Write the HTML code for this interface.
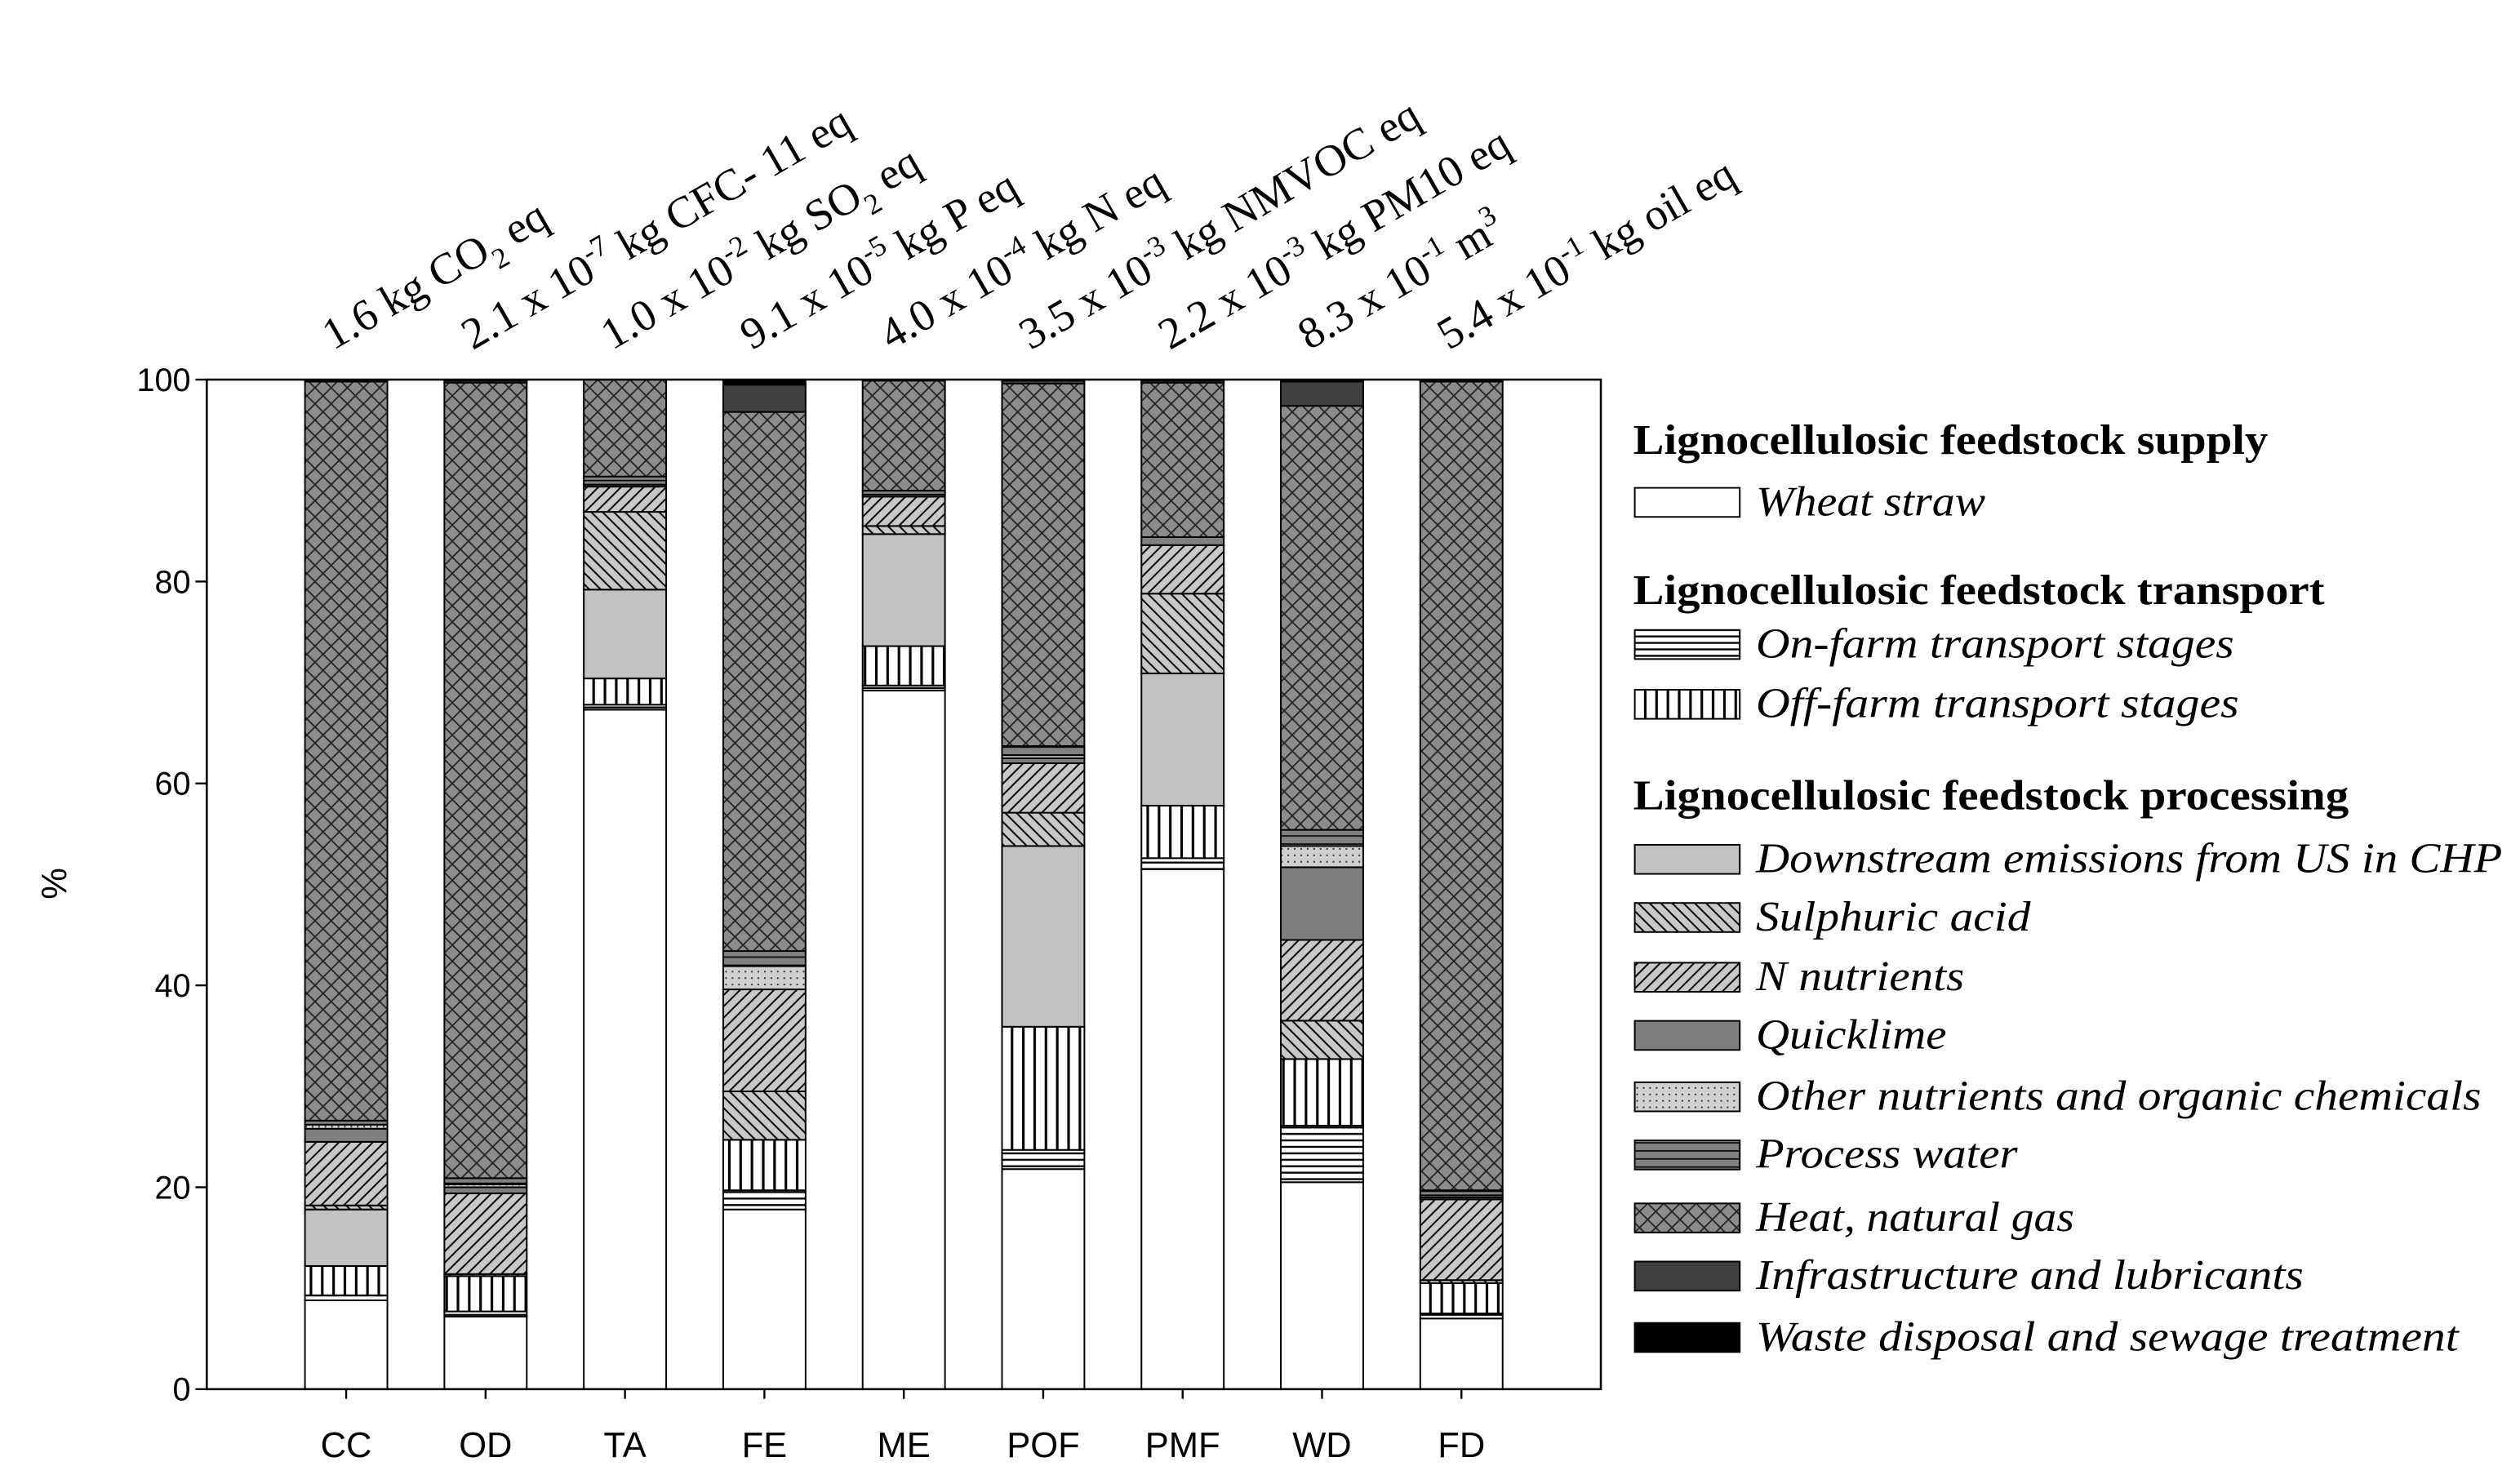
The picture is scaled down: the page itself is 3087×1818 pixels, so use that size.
<!DOCTYPE html>
<html><head><meta charset="utf-8">
<style>
html,body{margin:0;padding:0;background:#fff;}
svg{display:block;}
</style></head>
<body>
<svg id="chart" width="3087" height="1818" viewBox="0 0 1560 918.7" xmlns="http://www.w3.org/2000/svg">
<defs>
<pattern id="p1" patternUnits="userSpaceOnUse" width="8" height="4"><rect width="8" height="4" fill="#fff"/><line x1="0" y1="2" x2="8" y2="2" stroke="#000" stroke-width="1.2"/></pattern>
<pattern id="p2" patternUnits="userSpaceOnUse" width="7" height="8"><rect width="7" height="8" fill="#fff"/><line x1="3.5" y1="0" x2="3.5" y2="8" stroke="#000" stroke-width="1.6"/></pattern>
<pattern id="p3" patternUnits="userSpaceOnUse" width="4" height="4"><rect width="4" height="4" fill="#c2c2c2"/></pattern>
<pattern id="p4" patternUnits="userSpaceOnUse" width="7" height="7"><rect width="7" height="7" fill="#c8c8c8"/><path d="M-1,-1 L8,8 M-1,6 L1,8 M6,-1 L8,1" stroke="#000" stroke-width="1"/></pattern>
<pattern id="p5" patternUnits="userSpaceOnUse" width="7" height="7"><rect width="7" height="7" fill="#c8c8c8"/><path d="M-1,8 L8,-1 M-1,1 L1,-1 M6,8 L8,6" stroke="#000" stroke-width="1"/></pattern>
<pattern id="p6" patternUnits="userSpaceOnUse" width="4" height="4"><rect width="4" height="4" fill="#7e7e7e"/></pattern>
<pattern id="p7" patternUnits="userSpaceOnUse" width="4" height="4"><rect width="4" height="4" fill="#cfcfcf"/><rect x="1" y="1" width="1" height="1" fill="#333"/></pattern>
<pattern id="p8" patternUnits="userSpaceOnUse" width="8" height="5"><rect width="8" height="5" fill="#808080"/><line x1="0" y1="2.5" x2="8" y2="2.5" stroke="#000" stroke-width="0.8"/></pattern>
<pattern id="p9" patternUnits="userSpaceOnUse" width="10" height="10"><rect width="10" height="10" fill="#8c8c8c"/><path d="M0,5 L5,0 L10,5 L5,10 Z" fill="none" stroke="#222" stroke-width="0.9"/></pattern>
</defs>
<g id="plot"></g>
<g id="legend"></g>
</svg>
<script>
const categories = ["CC","OD","TA","FE","ME","POF","PMF","WD","FD"];
const topLabels = [
 [["1.6 kg CO","n"],["2","sub"],[" eq","n"]],
 [["2.1 x 10","n"],["-7","sup"],[" kg CFC- 11 eq","n"]],
 [["1.0 x 10","n"],["-2","sup"],[" kg SO","n"],["2","sub"],[" eq","n"]],
 [["9.1 x 10","n"],["-5","sup"],[" kg P eq","n"]],
 [["4.0 x 10","n"],["-4","sup"],[" kg N eq","n"]],
 [["3.5 x 10","n"],["-3","sup"],[" kg NMVOC eq","n"]],
 [["2.2 x 10","n"],["-3","sup"],[" kg PM10 eq","n"]],
 [["8.3 x 10","n"],["-1","sup"],["  m","n"],["3","sup"]],
 [["5.4 x 10","n"],["-1","sup"],[" kg oil eq","n"]]
];
const seriesNames = ["Wheat straw","On-farm transport stages","Off-farm transport stages","Downstream emissions from US in CHP","Sulphuric acid","N nutrients","Quicklime","Other nutrients and organic chemicals","Process water","Heat, natural gas","Infrastructure and lubricants","Waste disposal and sewage treatment"];
const wheatStraw   = [8.8, 7.2, 67.3, 17.8, 69.2, 21.8, 51.5, 20.5, 7.0];
const onFarm       = [0.5, 0.5, 0.5, 1.9, 0.5, 1.9, 1.1, 5.6, 0.5];
const offFarm      = [2.9, 3.5, 2.6, 5.0, 3.9, 12.2, 5.2, 6.6, 3.0];
const downstream   = [5.6, 0.0, 8.8, 0.0, 11.1, 17.9, 13.1, 0.0, 0.0];
const sulphuric    = [0.4, 0.2, 7.7, 4.8, 0.8, 3.3, 7.9, 3.8, 0.3];
const nNutrients   = [6.3, 8.0, 2.5, 10.1, 2.9, 4.9, 4.8, 8.0, 8.0];
const quicklime    = [1.3, 0.6, 0.2, 0.0, 0.2, 0.5, 0.0, 7.2, 0.2];
const otherNutr    = [0.4, 0.3, 0.0, 2.3, 0.0, 0.3, 0.0, 2.1, 0.2];
const processWater = [0.4, 0.6, 0.8, 1.5, 0.4, 0.9, 0.8, 1.6, 0.5];
const heatGas      = [73.2, 78.8, 9.6, 53.4, 10.9, 35.9, 15.3, 42.0, 80.1];
const infra        = [0.1, 0.2, 0.0, 2.7, 0.1, 0.3, 0.2, 2.4, 0.1];
const waste        = [0.1, 0.1, 0.0, 0.5, 0.0, 0.1, 0.1, 0.2, 0.1];
const yTicks = [0,20,40,60,80,100];

const series = [wheatStraw,onFarm,offFarm,downstream,sulphuric,nNutrients,quicklime,otherNutr,processWater,heatGas,infra,waste];
const fills = ["#fff","url(#p1)","url(#p2)","url(#p3)","url(#p4)","url(#p5)","url(#p6)","url(#p7)","url(#p8)","url(#p9)","#404040","#000"];
const NS="http://www.w3.org/2000/svg";
const L=128,R=991,T=235,B=860;
const slot=(R-L)/10, bw=51;
function xC(i){return L+slot*(i+1);}
function yS(v){return B-(B-T)*v/100;}
function mk(tag,attrs,parent){const e=document.createElementNS(NS,tag);for(const k in attrs)e.setAttribute(k,attrs[k]);parent.appendChild(e);return e;}
const plot=document.getElementById('plot');
const leg=document.getElementById('legend');
categories.forEach((c,i)=>{
  let cum=0;
  series.forEach((s,k)=>{
    const v=s[i]; if(v<=0) return;
    const r=mk('rect',{x:xC(i)-bw/2,y:yS(cum+v),width:bw,height:yS(cum)-yS(cum+v),fill:fills[k],stroke:'#000','stroke-width':1},plot);
    
    
    cum+=v;
  });
  const tk=mk('line',{x1:xC(i),y1:B,x2:xC(i),y2:B+6,stroke:'#000','stroke-width':1.2},plot);
  
  
  const t=mk('text',{x:xC(i),y:B+42,'text-anchor':'middle','font-family':'Liberation Sans, sans-serif','font-size':22},plot);
  t.textContent=c;
  
  
  const tl=mk('text',{x:0,y:0,transform:'translate('+(xC(i)-8)+','+(217)+') rotate(-30)','font-family':'Liberation Serif, serif','font-size':27.5},plot);
  
  
  let off=0;
  topLabels[i].forEach(([p,m])=>{
    const ts=mk('tspan',{},tl);
    const target = m==='sup'?-11:(m==='sub'?8:0);
    ts.setAttribute('dy', target-off);
    off=target;
    if(m!=='n') ts.setAttribute('font-size',18);
    ts.textContent=p;
  });
});
const fr=mk('rect',{x:L,y:T,width:R-L,height:B-T,fill:'none',stroke:'#000','stroke-width':1.3},plot);


yTicks.forEach(v=>{
  const ln=mk('line',{x1:L-7,y1:yS(v),x2:L,y2:yS(v),stroke:'#000','stroke-width':1.2},plot);
  
  
  const t=mk('text',{x:L-10,y:yS(v)+7,'text-anchor':'end','font-family':'Liberation Sans, sans-serif','font-size':20},plot);
  t.textContent=v;
  
  
});
const yt=mk('text',{x:0,y:0,transform:'translate(41,547) rotate(-90)','text-anchor':'middle','font-family':'Liberation Sans, sans-serif','font-size':22},plot);
yt.textContent='%';


const heads=[["Lignocellulosic feedstock supply",281,393],["Lignocellulosic feedstock transport",374,428],["Lignocellulosic feedstock processing",501,443]];
heads.forEach(h=>{
  const t=mk('text',{x:1011,y:h[1],'font-family':'Liberation Serif, serif','font-size':26,'font-weight':'bold',textLength:h[2],lengthAdjust:'spacingAndGlyphs'},leg);
  t.textContent=h[0];
  
  
});
const ly=[311,399,436,532,568,605,641,679,715,754,790,828];
const lw=[142,296,299,462,170,129,118,449,162,197,339,435];
seriesNames.forEach((n,k)=>{
  const r=mk('rect',{x:1012,y:ly[k]-9,width:65,height:18,fill:fills[k],stroke:'#000','stroke-width':1},leg);
  
  
  const t=mk('text',{x:1087,y:ly[k]+8,'font-family':'Liberation Serif, serif','font-size':26,'font-style':'italic',textLength:lw[k],lengthAdjust:'spacingAndGlyphs'},leg);
  t.textContent=n;
  
  
});
</script>
</body></html>
